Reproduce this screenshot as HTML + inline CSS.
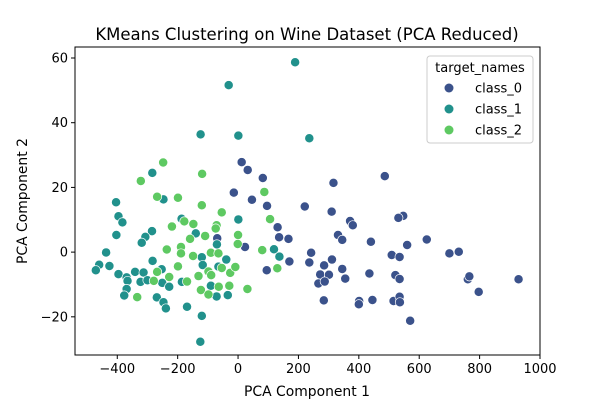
<!DOCTYPE html>
<html><head><meta charset="utf-8"><style>
body{margin:0;background:#fff;}
svg text{font-family:"DejaVu Sans","Liberation Sans",sans-serif;fill:#000;}
</style></head><body>
<svg id="chart" width="600" height="400" xmlns="http://www.w3.org/2000/svg">
<rect width="600" height="400" fill="#fff"/>
<text x="307" y="40" font-size="16.5" text-anchor="middle">KMeans Clustering on Wine Dataset (PCA Reduced)</text>
<g id="points"></g>
<g id="axes"></g>
<text x="307" y="396" font-size="13.9" text-anchor="middle">PCA Component 1</text>
<text transform="translate(27,201) rotate(-90)" font-size="13.9" text-anchor="middle">PCA Component 2</text>
<g>
<rect x="427" y="56" width="106" height="87" rx="3" fill="#fff" fill-opacity="0.8" stroke="#ccc" stroke-width="1"/>
<text x="480" y="72" font-size="13" text-anchor="middle">target_names</text>
<g><circle cx="449" cy="88" r="4.5" fill="#3b528b"/><text x="475" y="92.5" font-size="13">class_0</text></g>
<g><circle cx="449" cy="109" r="4.5" fill="#21918c"/><text x="475" y="113.5" font-size="13">class_1</text></g>
<g><circle cx="449" cy="130" r="4.5" fill="#5ec962"/><text x="475" y="134.5" font-size="13">class_2</text></g>
</g>
</svg>
<script>
const class0X=[12,32,82,316,486,-14,46,96,221,310,371,380,547,531,131,136,167,331,345,440,625,560,700,731,509,535,242,236,170,95,311,285,345,272,301,266,287,355,435,521,535,761,766,929,797,284,401,400,445,515,535,536,570,-69,23];
const class0Y=[27.8,25.4,22.9,21.4,23.5,18.4,16.2,14.3,14.1,12.5,9.6,8.3,11.2,10.6,7.7,4.6,4.1,5.3,3.8,3.2,3.9,2.2,-0.4,0.1,-0.9,-1.5,-0.2,-3.2,-2.9,-5.6,-2.3,-4.1,-5.2,-6.9,-7.0,-9.7,-9.1,-8.2,-6.6,-7.1,-8.3,-8.4,-7.5,-8.4,-12.3,-14.9,-15.1,-16.1,-14.8,-15.1,-13.8,-15.5,-21.2,4.3,1.6];
const class1X=[189,-31,-124,1,236,-284,-404,-396,-383,-247,-403,-285,-307,-319,-187,-140,-70,1,119,-437,-460,-471,-426,-396,-369,-341,-313,-366,-323,-283,-253,-369,-377,-300,-251,-228,-269,-247,-239,-169,-120,-125,-186,-120,-117,-39,-65,-90,-71,-34,137];
const class1Y=[58.7,51.6,36.4,36.0,35.2,24.5,15.4,11.1,9.2,16.3,5.3,6.5,4.7,2.9,10.3,5.8,2.4,10.1,0.9,-0.1,-3.9,-5.6,-4.3,-6.8,-7.8,-6.1,-6.3,-8.9,-9.2,-2.7,-5.3,-11.4,-13.4,-8.7,-9.5,-10.7,-14.0,-15.5,-17.4,-16.9,-19.7,-27.7,-9.2,-1.6,-4.0,-2.3,-4.5,-10.4,-13.7,-13.3,-1.4];
const class2X=[-248,-322,-119,-268,-199,-120,-54,87,106,-219,-178,-148,-71,-74,-159,-109,-1,0,-236,-189,-189,-149,-90,-65,80,-199,-268,-228,-279,-169,-131,-98,-89,-54,-26,-9,-123,-98,-64,-29,31,-334,130];
const class2Y=[27.7,22.0,24.2,17.1,16.8,14.5,12.3,18.6,10.2,7.9,9.5,8.7,8.3,7.3,4.1,5.0,2.5,5.3,0.8,1.6,-0.4,-1.2,-0.2,-0.4,0.6,-4.4,-6.1,-7.7,-8.9,-9.1,-7.4,-6.0,-7.1,-4.9,-6.4,-4.6,-11.7,-13.1,-10.7,-10.4,-11.4,-13.9,-5.0];
const xTicks=[-400,-200,0,200,400,600,800,1000];
const yTicks=[-20,0,20,40,60];
const L=75,R=540,T=47,B=355,xMin=-540,xMax=1000,yMin=-31.8,yMax=63.4;
const sx=v=>L+(v-xMin)/(xMax-xMin)*(R-L);
const sy=v=>B-(v-yMin)/(yMax-yMin)*(B-T);
const NS="http://www.w3.org/2000/svg";
const pts=document.getElementById('points');
function drawSeries(xs,ys,color,name){
  for(let i=0;i<xs.length;i++){
    const c=document.createElementNS(NS,'circle');
    c.setAttribute('cx',sx(xs[i]));c.setAttribute('cy',sy(ys[i]));
    c.setAttribute('r',4.6);c.setAttribute('fill',color);
    c.setAttribute('stroke','#fff');c.setAttribute('stroke-width',0.7);
    
    
    pts.appendChild(c);
  }
}
drawSeries(class0X,class0Y,'#3b528b','point-class-0');
drawSeries(class1X,class1Y,'#21918c','point-class-1');
drawSeries(class2X,class2Y,'#5ec962','point-class-2');
const ax=document.getElementById('axes');
const fr=document.createElementNS(NS,'rect');
fr.setAttribute('x',L);fr.setAttribute('y',T);fr.setAttribute('width',R-L);fr.setAttribute('height',B-T);
fr.setAttribute('fill','none');fr.setAttribute('stroke','#000');fr.setAttribute('stroke-width',1);


ax.appendChild(fr);
xTicks.forEach(t=>{
  const x=sx(t);
  const l=document.createElementNS(NS,'line');
  l.setAttribute('x1',x);l.setAttribute('x2',x);l.setAttribute('y1',B);l.setAttribute('y2',B+4);l.setAttribute('stroke','#000');
  
  
  ax.appendChild(l);
  const tx=document.createElementNS(NS,'text');
  tx.setAttribute('x',x);tx.setAttribute('y',B+18);tx.setAttribute('font-size','13');tx.setAttribute('text-anchor','middle');
  tx.textContent=t<0?'\u2212'+(-t):t;
  
  
  ax.appendChild(tx);
});
yTicks.forEach(t=>{
  const y=sy(t);
  const l=document.createElementNS(NS,'line');
  l.setAttribute('x1',L-4);l.setAttribute('x2',L);l.setAttribute('y1',y);l.setAttribute('y2',y);l.setAttribute('stroke','#000');
  
  
  ax.appendChild(l);
  const tx=document.createElementNS(NS,'text');
  tx.setAttribute('x',L-7);tx.setAttribute('y',y+4.5);tx.setAttribute('font-size','13');tx.setAttribute('text-anchor','end');
  tx.textContent=t<0?'\u2212'+(-t):t;
  
  
  ax.appendChild(tx);
});
</script>
</body></html>
